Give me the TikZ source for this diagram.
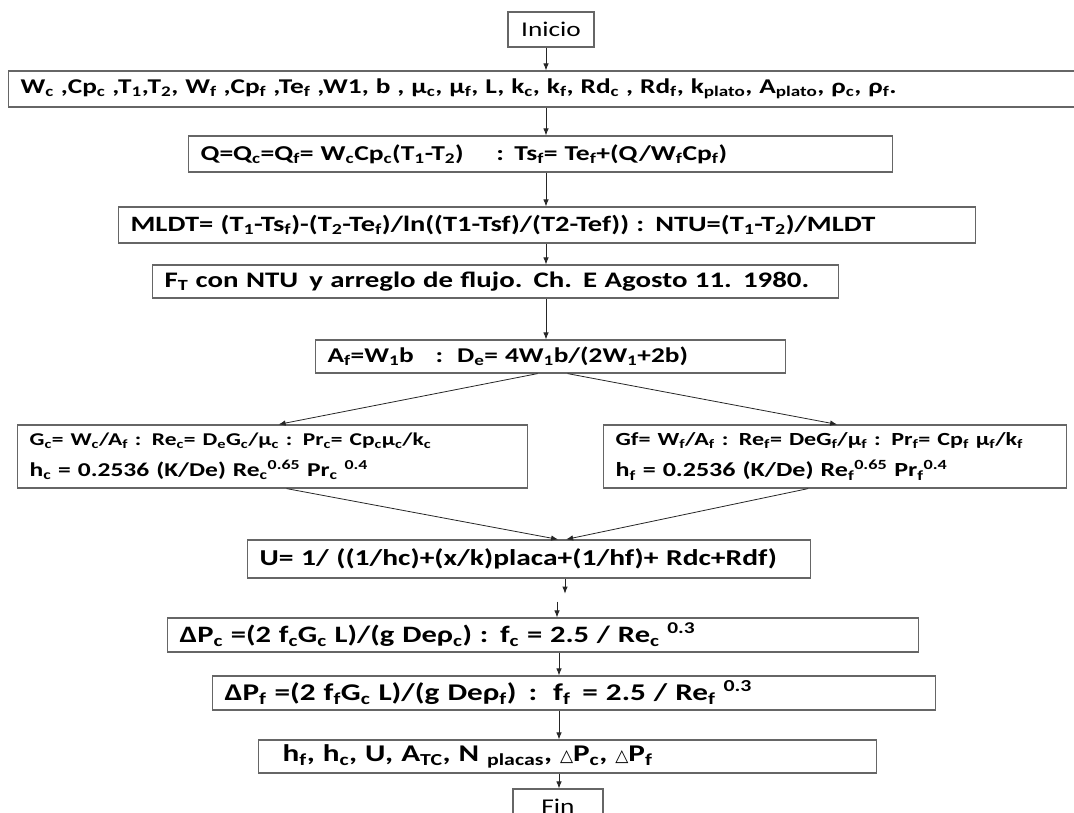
\documentclass[tikz,border=0pt]{standalone}
\usepackage{fontspec}
\setmainfont{Carlito}[FakeStretch=1.3]
\newfontfamily\trifont{DejaVu Sans}
\usetikzlibrary{arrows.meta,positioning,calc}

\newcommand{\sbs}[1]{\textsubscript{#1}}
\newcommand{\sps}[1]{\textsuperscript{#1}}
\newcommand{\tri}{{\trifont\fontsize{17}{20}\selectfont △}}
\newcommand{\tam}[1]{\fontsize{#1}{#1}\selectfont}

\tikzset{
  caja/.style={draw=black!60, line width=1.2pt, inner xsep=12pt, inner ysep=0pt,
    anchor=west, align=left, font=\bfseries\tam{21}},
  terminal/.style={draw=black!60, line width=1.2pt, inner sep=0pt, font=\tam{21}},
  flecha/.style={-{Latex[length=7pt,width=5.5pt]}, line width=0.8pt, black!85}
}

\begin{document}
\begin{tikzpicture}[x=1pt,y=-1pt]
\useasboundingbox (0,0) rectangle (1074,813);
\clip (0,0) rectangle (1074,813);
\coordinate (eje) at (546,0);
\coordinate (eje2) at (559,0);

% Inicio y datos
\node[terminal, minimum width=86pt, minimum height=35pt] (inicio) at (551,29.5) {Inicio};
\node[caja, text width=1046pt, minimum height=36pt, font=\bfseries\tam{21}] (datos) at (8,89)
  {W\sbs{c} ,Cp\sbs{c} ,T\sbs{1},T\sbs{2}, W\sbs{f} ,Cp\sbs{f} ,Te\sbs{f} ,W1, b , μ\sbs{c}, μ\sbs{f}, L, k\sbs{c}, k\sbs{f}, Rd\sbs{c} , Rd\sbs{f}, k\sbs{plato}, A\sbs{plato}, ρ\sbs{c}, ρ\sbs{f}.};

% Calor y MLDT
\node[caja, text width=680pt, minimum height=36pt, font=\bfseries\tam{21.2}] (calor) at (188,154)
  {Q=Q\sbs{c}=Q\sbs{f}= W\sbs{c}Cp\sbs{c}(T\sbs{1}-T\sbs{2})\hspace{1.2em} : Ts\sbs{f}= Te\sbs{f}+(Q/W\sbs{f}Cp\sbs{f})};
\node[caja, text width=833pt, minimum height=36pt, font=\bfseries\tam{21.9}] (mldt) at (118,225)
  {MLDT= (T\sbs{1}-Ts\sbs{f})-(T\sbs{2}-Te\sbs{f})/ln((T1-Tsf)/(T2-Tef)) : NTU=(T\sbs{1}-T\sbs{2})/MLDT};
\node[caja, text width=662pt, minimum height=33pt, font=\bfseries\tam{22.2}] (ft) at (152,281.5)
  {F\sbs{T} con NTU\, y arreglo de flujo. Ch. E Agosto 11. 1980.};
\node[caja, text width=446pt, minimum height=33pt] (area) at (315,356.5)
  {A\sbs{f}=W\sbs{1}b\hspace{0.7em} :\, D\sbs{e}= 4W\sbs{1}b/(2W\sbs{1}+2b)};

% Lado caliente y lado frio
\node[caja, text width=486pt, minimum height=63pt] (izq) at (17,456.5)
  {{\tam{18}G\sbs{c}= W\sbs{c}/A\sbs{f} : Re\sbs{c}= D\sbs{e}G\sbs{c}/μ\sbs{c} : Pr\sbs{c}= Cp\sbs{c}μ\sbs{c}/k\sbs{c}}\\[10pt]
   {\tam{19.6}h\sbs{c} = 0.2536 (K/De) Re\sbs{c}\sps{0.65} Pr\sbs{c} \sps{0.4}}};
\node[caja, text width=439pt, minimum height=63pt] (der) at (603,456.5)
  {{\tam{18.5}Gf= W\sbs{f}/A\sbs{f} : Re\sbs{f}= DeG\sbs{f}/μ\sbs{f} : Pr\sbs{f}= Cp\sbs{f} μ\sbs{f}/k\sbs{f}}\\[10pt]
   {\tam{20}h\sbs{f} = 0.2536 (K/De) Re\sbs{f}\sps{0.65} Pr\sbs{f}\sps{0.4}}};

% Coeficiente global y caidas de presion
\node[caja, text width=539pt, minimum height=38pt, font=\bfseries\tam{22.7}] (coef) at (247,559)
  {U= 1/ ((1/hc)+(x/k)placa+(1/hf)+ Rdc+Rdf)};
\node[caja, text width=727pt, minimum height=34pt, font=\bfseries\tam{23.5}] (dpc) at (167,635)
  {ΔP\sbs{c} =(2 f\sbs{c}G\sbs{c} L)/(g Deρ\sbs{c}) : f\sbs{c} = 2.5 / Re\sbs{c} \sps{0.3}};
\node[caja, text width=699pt, minimum height=34pt, font=\bfseries\tam{24}] (dpf) at (212,693)
  {ΔP\sbs{f} =(2 f\sbs{f}G\sbs{c} L)/(g Deρ\sbs{f})\, :\, f\sbs{f}\, = 2.5 / Re\sbs{f} \sps{0.3}};
\node[caja, text width=594pt, minimum height=33pt, font=\bfseries\tam{24}] (resul) at (258,756.5)
  {\hspace{12pt}h\sbs{f}, h\sbs{c}, U, A\sbs{TC}, N \sbs{placas}, \tri P\sbs{c}, \tri P\sbs{f}};
\node[terminal, minimum width=90pt, minimum height=34pt] (fin) at (558,806) {Fin};

% Conectores
\draw[flecha] (inicio.south -| eje) -- (datos.north -| eje);
\draw[flecha] (datos.south -| eje) -- (calor.north -| eje);
\draw[flecha] (calor.south -| eje) -- (mldt.north -| eje);
\draw[flecha] (mldt.south -| eje) -- (ft.north -| eje);
\draw[flecha] (ft.south -| eje) -- (area.north -| eje);
\draw[flecha] ([xshift=-13pt]area.south) -- ([xshift=6pt]izq.north);
\draw[flecha] ([xshift=17pt]area.south) -- ([xshift=2pt]der.north);
\draw[flecha] ([xshift=14pt]izq.south) -- ([xshift=29pt]coef.north);
\draw[flecha] ([xshift=-27pt]der.south) -- ([xshift=37pt]coef.north);
\coordinate (medio1) at ($(coef.south -| eje2)+(6,15)$);
\coordinate (medio2) at ($(coef.south -| eje2)+(-2,23)$);
\draw[flecha] (coef.south -| medio1) -- (medio1);
\draw[flecha] (medio2) -- (dpc.north -| medio2);
\draw[flecha] (dpc.south -| eje2) -- (dpf.north -| eje2);
\draw[flecha] (dpf.south -| eje2) -- (resul.north -| eje2);
\draw[flecha] (resul.south -| eje2) -- (fin.north -| eje2);
\end{tikzpicture}
\end{document}
